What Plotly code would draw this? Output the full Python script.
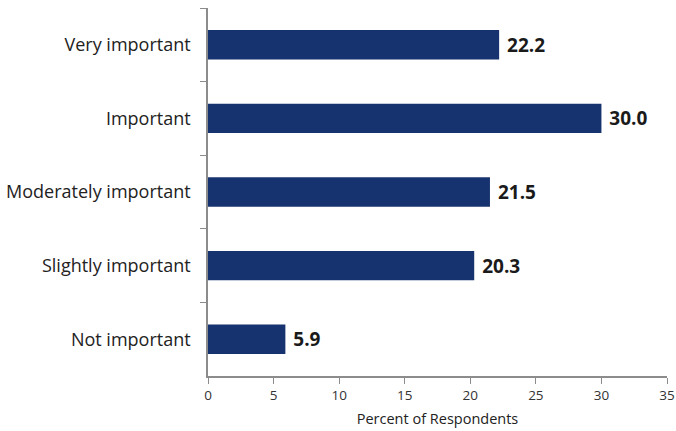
import plotly.graph_objects as go

categories = ["Very important", "Important", "Moderately important", "Slightly important", "Not important"]
values = [22.2, 30.0, 21.5, 20.3, 5.9]
x_ticks = [0, 5, 10, 15, 20, 25, 30, 35]

fig = go.Figure(go.Bar(
    y=categories, x=values, orientation="h",
    marker=dict(color="#17336F", line=dict(width=0)),
    text=[f"\u00a0{v:.1f}" for v in values], textposition="outside",
    textfont=dict(family="Open Sans", size=19, color="#1a1a1a", weight="bold"),
    cliponaxis=False,
))
fig.update_layout(
    width=676, height=431, margin=dict(l=208, r=9, t=8, b=55, autoexpand=False),
    plot_bgcolor="white", paper_bgcolor="white", bargap=0.6, showlegend=False,
    font=dict(family="Open Sans", color="#222"),
)
fig.update_xaxes(range=[0, 35], tickvals=x_ticks, showgrid=False, zeroline=False, automargin=False,
                 showline=True, linecolor="#8c8c8c", linewidth=1.5, ticks="outside",
                 tickcolor="#8c8c8c", ticklen=6, tickfont=dict(size=13.5, color="#333"),
                 title=dict(text="Percent of Respondents", font=dict(size=14.5, color="#222"), standoff=11))
fig.update_yaxes(autorange="reversed", showgrid=False, showline=True, linecolor="#8c8c8c", automargin=False,
                 linewidth=1.5, ticks="outside", tickson="boundaries", tickcolor="#8c8c8c",
                 ticklen=6, ticklabelstandoff=12, tickfont=dict(size=18, color="#222"))
fig.write_html("out.html")
